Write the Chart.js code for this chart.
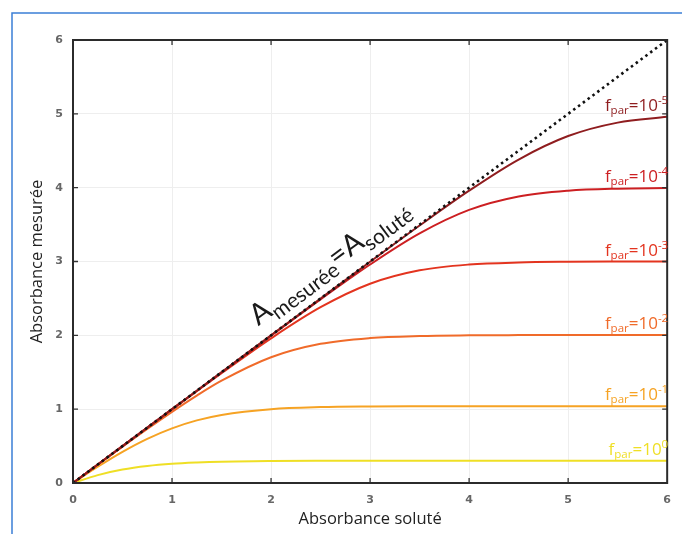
<!DOCTYPE html>
<html>
<head>
<meta charset="utf-8">
<script src="https://cdn.jsdelivr.net/npm/chart.js@4/dist/chart.umd.min.js"></script>
<style>
  html, body { margin: 0; padding: 0; background: #fff; }
  #wrap { width: 682px; height: 534px; position: relative; }
</style>
</head>
<body>
<div id="wrap"><canvas id="chart" width="682" height="534"></canvas></div>
<script>
// Absorbance of the solute (x axis)
const solute = [0, 0.25, 0.5, 0.75, 1, 1.25, 1.5, 2, 2.5, 3, 3.5, 4, 4.5, 5, 5.5, 6];

// Measured absorbance for each stray light fraction f_par
const fpar0 = [0, 0.107, 0.182, 0.230, 0.260, 0.277, 0.288, 0.297, 0.300, 0.301, 0.301, 0.301, 0.301, 0.301, 0.301, 0.301];
const fpar1 = [0, 0.220, 0.422, 0.598, 0.740, 0.848, 0.922, 1.000, 1.028, 1.037, 1.040, 1.041, 1.041, 1.041, 1.041, 1.041];
const fpar2 = [0, 0.247, 0.491, 0.731, 0.963, 1.183, 1.385, 1.703, 1.885, 1.963, 1.991, 2.000, 2.003, 2.004, 2.004, 2.004];
const fpar3 = [0, 0.250, 0.499, 0.748, 0.996, 1.243, 1.487, 1.959, 2.381, 2.699, 2.881, 2.959, 2.987, 2.996, 2.999, 3.000];
const fpar4 = [0, 0.250, 0.500, 0.750, 1.000, 1.249, 1.499, 1.996, 2.487, 2.959, 3.381, 3.699, 3.881, 3.959, 3.987, 3.996];
const fpar5 = [0, 0.250, 0.500, 0.750, 1.000, 1.250, 1.500, 2.000, 2.499, 2.996, 3.487, 3.959, 4.381, 4.699, 4.881, 4.959];

// Ideal line A_mesuree = A_solute
const idealX = [0, 6];
const idealY = [0, 6];

// Curve labels (exponent of 10)
const exponents = ['-5', '-4', '-3', '-2', '-1', '0'];
const tickValues = [0, 1, 2, 3, 4, 5, 6];

const colors = ['#8f1d1f', '#cc1f22', '#e3341f', '#f06b2a', '#f6a324', '#efdf25'];
const seriesData = [fpar5, fpar4, fpar3, fpar2, fpar1, fpar0];

const toPoints = (xs, ys) => xs.map((x, i) => ({ x: x, y: ys[i] }));

const datasets = [{
  label: 'ideal',
  data: toPoints(idealX, idealY),
  borderColor: '#111',
  borderWidth: 2.6,
  borderDash: [2.5, 3.5],
  pointRadius: 0,
  fill: false
}];
seriesData.forEach((ys, i) => {
  datasets.push({
    label: 'fpar=10^' + exponents[i],
    data: toPoints(solute, ys),
    borderColor: colors[i],
    borderWidth: 2,
    pointRadius: 0,
    cubicInterpolationMode: 'monotone',
    fill: false,
    exponent: exponents[i]
  });
});

// Frame, inward ticks and plot border
const framePlugin = {
  id: 'frame',
  beforeDraw(chart) {
    const ctx = chart.ctx;
    ctx.save();
    ctx.strokeStyle = '#3b7fd6';
    ctx.lineWidth = 1.5;
    ctx.beginPath();
    ctx.moveTo(682, 13);
    ctx.lineTo(12, 13);
    ctx.lineTo(12, 534);
    ctx.stroke();
    ctx.restore();
  },
  afterDatasetsDraw(chart) {
    const { ctx, chartArea: a, scales: { x, y } } = chart;
    ctx.save();
    ctx.strokeStyle = '#333';
    ctx.lineWidth = 1.3;
    ctx.beginPath();
    tickValues.slice(1, -1).forEach(v => {
      const px = x.getPixelForValue(v);
      ctx.moveTo(px, a.bottom); ctx.lineTo(px, a.bottom - 5);
      ctx.moveTo(px, a.top); ctx.lineTo(px, a.top + 5);
      const py = y.getPixelForValue(v);
      ctx.moveTo(a.left, py); ctx.lineTo(a.left + 5, py);
      ctx.moveTo(a.right, py); ctx.lineTo(a.right - 5, py);
    });
    ctx.stroke();
    ctx.lineWidth = 2;
    ctx.strokeStyle = '#2b2b2b';
    ctx.strokeRect(a.left, a.top, a.right - a.left, a.bottom - a.top);
    ctx.restore();
  }
};

// Labels f_par=10^n at the right end of each curve, and the diagonal text
const labelPlugin = {
  id: 'curveLabels',
  afterDraw(chart) {
    const { ctx, chartArea: a, scales: { x, y } } = chart;
    ctx.save();
    chart.data.datasets.forEach(ds => {
      if (!ds.exponent) return;
      const last = ds.data[ds.data.length - 1];
      const base = y.getPixelForValue(last.y) - 6;
      const big = '17px "Open Sans"';
      const small = '11.5px "Open Sans"';
      const parts = [
        { t: 'f', f: big, dy: 0 },
        { t: 'par', f: small, dy: 3 },
        { t: '=10', f: big, dy: 0 },
        { t: ds.exponent, f: small, dy: -7 }
      ];
      let w = 0;
      parts.forEach(p => { ctx.font = p.f; p.w = ctx.measureText(p.t).width; w += p.w; });
      let cx = a.right - w + 1;
      ctx.fillStyle = ds.borderColor;
      ctx.textBaseline = 'alphabetic';
      parts.forEach(p => { ctx.font = p.f; ctx.fillText(p.t, cx, base + p.dy); cx += p.w; });
    });

    // A_mesuree = A_solute along the diagonal
    const x0 = x.getPixelForValue(1.96), y0 = y.getPixelForValue(1.96);
    const x1 = x.getPixelForValue(3.4), y1 = y.getPixelForValue(3.4);
    const ang = Math.atan2(y1 - y0, x1 - x0);
    ctx.translate(x0, y0);
    ctx.rotate(ang);
    ctx.fillStyle = '#1a1a1a';
    const bigA = '29px "Lato"';
    const subA = '21px "Lato"';
    const segs = [
      { t: 'A', f: bigA, dy: 0 },
      { t: 'mesurée', f: subA, dy: 7 },
      { t: '=', f: bigA, dy: 0 },
      { t: 'A', f: bigA, dy: 0 },
      { t: 'soluté', f: subA, dy: 7 }
    ];
    let cx = 0;
    segs.forEach(s => { ctx.font = s.f; ctx.fillText(s.t, cx, -15 + s.dy); cx += ctx.measureText(s.t).width; });
    ctx.restore();
  }
};

const tickFont = { family: 'DejaVu Sans', size: 11, weight: 'bold' };
const titleFont = { family: 'Open Sans', size: 16.5 };

new Chart(document.getElementById('chart').getContext('2d'), {
  type: 'line',
  data: { datasets: datasets },
  options: {
    responsive: false,
    animation: false,
    layout: { padding: { left: 0, top: 40, right: 11, bottom: 0 } },
    plugins: { legend: { display: false }, tooltip: { enabled: false } },
    scales: {
      x: {
        type: 'linear',
        min: 0, max: 6,
        grid: { color: '#eeeeee', drawTicks: false },
        border: { display: false },
        afterBuildTicks: s => { s.ticks = tickValues.map(v => ({ value: v })); },
        afterFit: s => { s.height = 51; },
        ticks: { color: '#666', font: tickFont, padding: 11, maxRotation: 0 },
        title: { display: true, text: 'Absorbance soluté', color: '#222', font: titleFont, padding: { top: 0, bottom: 5 } }
      },
      y: {
        type: 'linear',
        min: 0, max: 6,
        grid: { color: '#eeeeee', drawTicks: false },
        border: { display: false },
        afterBuildTicks: s => { s.ticks = tickValues.map(v => ({ value: v })); },
        afterFit: s => { s.width = 73; },
        ticks: { color: '#666', font: tickFont, padding: 10 },
        title: { display: true, text: 'Absorbance mesurée', color: '#222', font: titleFont, padding: { top: 27, bottom: 0 } }
      }
    }
  },
  plugins: [framePlugin, labelPlugin]
});
</script>
</body>
</html>
